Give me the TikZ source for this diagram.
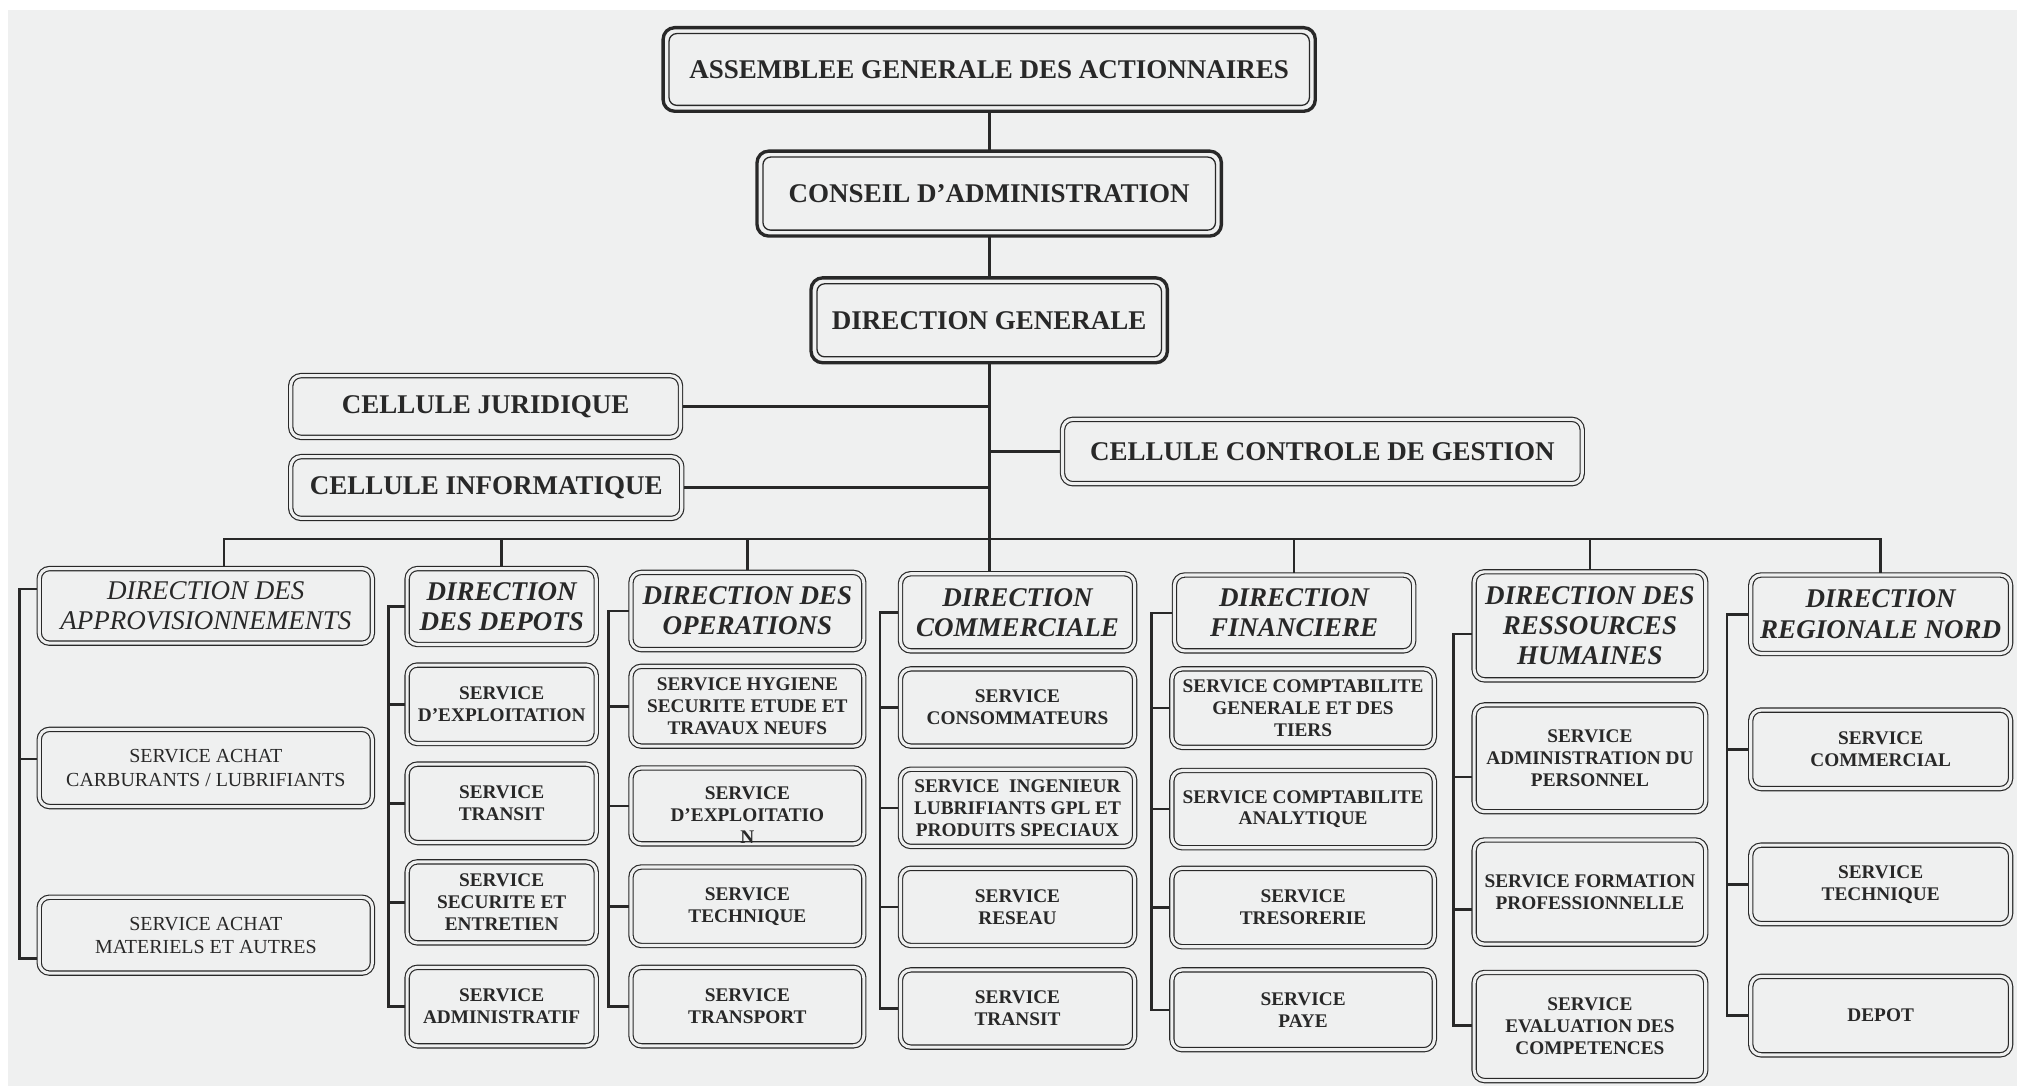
\documentclass[tikz,border=0pt]{standalone}
\usepackage{fontspec}
\setmainfont{Liberation Serif}
\usetikzlibrary{positioning,backgrounds}

\definecolor{paper}{RGB}{239,240,240}
\definecolor{ink}{RGB}{40,40,40}

\begin{document}
\begin{tikzpicture}[x=1pt,y=-1pt,
topbox/.style={draw=ink,text=ink,line width=2.6pt,rounded corners=9pt,align=center,
  font=\fontsize{21}{24}\selectfont\bfseries,
  path picture={\draw[ink,line width=1pt,rounded corners=6pt]
    ([shift={(4.6pt,4.6pt)}]path picture bounding box.south west) rectangle
    ([shift={(-4.6pt,-4.6pt)}]path picture bounding box.north east);}},
dblbox/.style={draw=ink,text=ink,double=paper,double distance=2.4pt,line width=0.9pt,
  rounded corners=8pt,align=center,inner sep=1pt},
cellbox/.style={dblbox,font=\fontsize{21}{24}\selectfont\bfseries},
dirbox/.style={dblbox,font=\fontsize{21}{23.5}\selectfont\bfseries\itshape},
dirlight/.style={dblbox,font=\fontsize{21}{23.5}\selectfont\itshape},
srvbox/.style={dblbox,font=\fontsize{15}{17}\selectfont\bfseries},
srvlight/.style={dblbox,font=\fontsize{15.5}{18}\selectfont},
link/.style={draw=ink,line width=2pt,line cap=rect}]
\useasboundingbox (0,0) rectangle (1568,844);

\node[topbox,minimum width=507pt,minimum height=65pt] (AG) at (769,54) {ASSEMBLEE GENERALE DES ACTIONNAIRES};
\node[topbox,minimum width=361pt,minimum height=66pt] (CA) at (769,150.5) {CONSEIL D’ADMINISTRATION};
\node[topbox,minimum width=277pt,minimum height=66pt] (DG) at (769,249) {DIRECTION GENERALE};
\node[cellbox,minimum width=303pt,minimum height=48pt] (CJ) at (377.5,316) {CELLULE JURIDIQUE};
\node[cellbox,minimum width=304pt,minimum height=48pt] (CI) at (378,379) {CELLULE INFORMATIQUE};
\node[cellbox,minimum width=404pt,minimum height=50pt] (CCG) at (1028,351) {CELLULE CONTROLE DE GESTION};

\node[dirlight,minimum width=259pt,minimum height=58pt] (D1) at (160,471) {DIRECTION DES\\APPROVISIONNEMENTS};
\node[srvlight,minimum width=259pt,minimum height=60pt] (S11) at (160,597) {SERVICE ACHAT\\CARBURANTS / LUBRIFIANTS};
\node[srvlight,minimum width=259pt,minimum height=59pt] (S12) at (160,727) {SERVICE ACHAT\\MATERIELS ET AUTRES};

\node[dirbox,minimum width=147pt,minimum height=59pt] (D2) at (390,471.5) {DIRECTION\\DES DEPOTS};
\node[srvbox,minimum width=147pt,minimum height=61pt] (S21) at (390,547.5) {SERVICE\\D’EXPLOITATION};
\node[srvbox,minimum width=147pt,minimum height=61pt] (S22) at (390,624.5) {SERVICE\\TRANSIT};
\node[srvbox,minimum width=147pt,minimum height=63pt] (S23) at (390,701.5) {SERVICE\\SECURITE ET\\ENTRETIEN};
\node[srvbox,minimum width=147pt,minimum height=61pt] (S24) at (390,782.5) {SERVICE\\ADMINISTRATIF};

\node[dirbox,minimum width=181pt,minimum height=60pt] (D3) at (581,475) {DIRECTION DES\\OPERATIONS};
\node[srvbox,minimum width=181pt,minimum height=62pt] (S31) at (581,549) {SERVICE HYGIENE\\SECURITE ETUDE ET\\TRAVAUX NEUFS};
\node[srvbox,minimum width=181pt,minimum height=59pt] (S32) at (581,626.5) {\raisebox{-9pt}[\height][\depth]{\begin{tabular}{@{}c@{}}SERVICE\\D’EXPLOITATIO\\N\end{tabular}}};
\node[srvbox,minimum width=181pt,minimum height=61pt] (S33) at (581,704.5) {SERVICE\\TECHNIQUE};
\node[srvbox,minimum width=181pt,minimum height=61pt] (S34) at (581,782.5) {SERVICE\\TRANSPORT};

\node[dirbox,minimum width=182pt,minimum height=60pt] (D4) at (791,476) {DIRECTION\\COMMERCIALE};
\node[srvbox,minimum width=182pt,minimum height=60pt] (S41) at (791,550) {SERVICE\\CONSOMMATEURS};
\node[srvbox,minimum width=182pt,minimum height=60pt] (S42) at (791,628) {SERVICE~ INGENIEUR\\LUBRIFIANTS GPL ET\\PRODUITS SPECIAUX};
\node[srvbox,minimum width=182pt,minimum height=60pt] (S43) at (791,705) {SERVICE\\RESEAU};
\node[srvbox,minimum width=182pt,minimum height=60pt] (S44) at (791,784) {SERVICE\\TRANSIT};

\node[dirbox,minimum width=186pt,minimum height=59pt] (D5) at (1006,476.5) {DIRECTION\\FINANCIERE};
\node[srvbox,minimum width=204pt,minimum height=61pt] (S51) at (1013,550.5) {SERVICE COMPTABILITE\\GENERALE ET DES\\TIERS};
\node[srvbox,minimum width=204pt,minimum height=60pt] (S52) at (1013,629) {SERVICE COMPTABILITE\\ANALYTIQUE};
\node[srvbox,minimum width=204pt,minimum height=61pt] (S53) at (1013,705.5) {SERVICE\\TRESORERIE};
\node[srvbox,minimum width=204pt,minimum height=62pt] (S54) at (1013,785) {SERVICE\\PAYE};

\node[dirbox,minimum width=180pt,minimum height=84pt] (D6) at (1236,486.5) {DIRECTION DES\\RESSOURCES\\HUMAINES};
\node[srvbox,minimum width=180pt,minimum height=83pt] (S61) at (1236,589.5) {SERVICE\\ADMINISTRATION DU\\PERSONNEL};
\node[srvbox,minimum width=180pt,minimum height=81pt] (S62) at (1236,693.5) {SERVICE FORMATION\\PROFESSIONNELLE};
\node[srvbox,minimum width=180pt,minimum height=84pt] (S63) at (1236,798) {SERVICE\\EVALUATION DES\\COMPETENCES};

\node[dirbox,minimum width=202pt,minimum height=61pt] (D7) at (1462,477.5) {DIRECTION\\REGIONALE NORD};
\node[srvbox,minimum width=202pt,minimum height=61pt] (S71) at (1462,582.5) {SERVICE\\COMMERCIAL};
\node[srvbox,minimum width=202pt,minimum height=61pt] (S72) at (1462,687.5) {SERVICE\\TECHNIQUE};
\node[srvbox,minimum width=202pt,minimum height=61pt] (S73) at (1462,789.5) {DEPOT};

\begin{scope}[on background layer]
\fill[paper] (6,8) rectangle (1568,844);
\coordinate (B) at (769,419);
\coordinate (B1) at (174,419);
\coordinate (L2) at (302,0);
\coordinate (L3) at (473,0);
\coordinate (L4) at (684,0);
\coordinate (L5) at (895,0);
\coordinate (L7) at (1342.5,0);
\coordinate (L1a) at (15,458);
\coordinate (L1b) at (15,590);
\coordinate (L1c) at (15,745);
\coordinate (L6a) at (1130,493);
\coordinate (L6b) at (1130,604);
\coordinate (L6c) at (1130,707);
\coordinate (L6d) at (1130,797);

\draw[link] (AG)--(CA)--(DG)--(B);
\draw[link] (DG |- CJ)--(CJ);
\draw[link] (DG |- CI)--(CI);
\draw[link] (DG |- CCG)--(CCG);
\draw[link] (B1)--(D7 |- B);
\draw[link] (B1)--(B1 |- D1.north);
\draw[link] (B)--(B |- D4.north);
\foreach \d in {D2,D3,D5,D6,D7} \draw[link] (\d |- B)--(\d);

\draw[link] (L1a)--(L1c);
\foreach \t/\n in {L1a/D1,L1b/S11,L1c/S12} \draw[link] (\t)--(\t -| \n.west);
\draw[link] (D2.west -| L2)--(S24.west -| L2);
\foreach \n in {D2,S21,S22,S23,S24} \draw[link] (\n.west)--(\n.west -| L2);
\draw[link] (D3.west -| L3)--(S34.west -| L3);
\foreach \n in {D3,S31,S32,S33,S34} \draw[link] (\n.west)--(\n.west -| L3);
\draw[link] (D4.west -| L4)--(S44.west -| L4);
\foreach \n in {D4,S41,S42,S43,S44} \draw[link] (\n.west)--(\n.west -| L4);
\draw[link] (D5.west -| L5)--(S54.west -| L5);
\foreach \n in {D5,S51,S52,S53,S54} \draw[link] (\n.west)--(\n.west -| L5);
\draw[link] (L6a)--(L6d);
\foreach \t/\n in {L6a/D6,L6b/S61,L6c/S62,L6d/S63} \draw[link] (\t)--(\t -| \n.west);
\draw[link] (D7.west -| L7)--(S73.west -| L7);
\foreach \n in {D7,S71,S72,S73} \draw[link] (\n.west)--(\n.west -| L7);
\end{scope}
\end{tikzpicture}
\end{document}
